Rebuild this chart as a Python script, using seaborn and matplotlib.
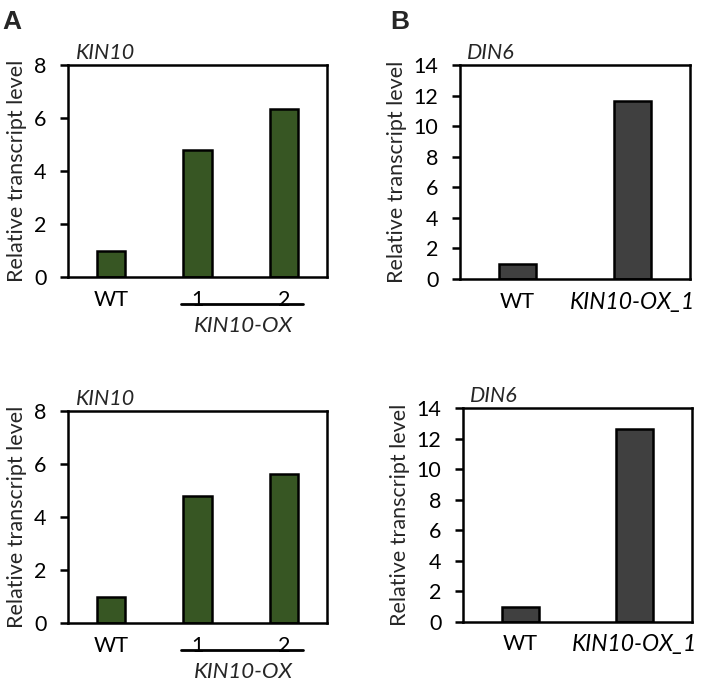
import numpy as np
import matplotlib.pyplot as plt
import seaborn as sns
from matplotlib import transforms

# values
kin10_labels = ["WT", "1", "2"]
kin10_top = [1.0, 4.8, 6.35]
kin10_bottom = [1.0, 4.8, 5.64]

din6_labels = ["WT", "KIN10-OX_1"]
din6_top = [1.0, 11.65]
din6_bottom = [1.0, 12.6]

green = "#375623"
grey = "#404040"

sns.set_theme(style="white")
plt.rcParams["font.family"] = ["Lato", "DejaVu Sans"]

fig = plt.figure(figsize=(7.09, 6.84), dpi=100)

W, H = 709, 684


def px_axes(left, top, right, bottom):
    return fig.add_axes([left / W, (H - bottom) / H, (right - left) / W, (bottom - top) / H])


def style(ax, ymax, step, title):
    ax.set_ylim(0, ymax)
    ax.set_yticks(np.arange(0, ymax + 1, step))
    for s in ax.spines.values():
        s.set_visible(True)
        s.set_linewidth(1.8)
        s.set_color("black")
    ax.tick_params(axis="y", which="both", left=True, length=5.5, width=1.8,
                   labelsize=15.5, pad=10, colors="black")
    ax.tick_params(axis="x", bottom=False, labelsize=15.5, pad=3, colors="black")
    ax.set_xlabel("")
    ax.set_ylabel("Relative transcript level", fontsize=15.5, labelpad=5)
    ax.text(0.03, 1.01, title, transform=ax.transAxes, fontsize=15.5,
            style="italic", ha="left", va="bottom")


def kin10_panel(ax, values):
    sns.barplot(x=kin10_labels, y=values, color=green, edgecolor="black",
                linewidth=1.8, width=0.33, saturation=1, ax=ax)
    ax.set_xlim(-0.5, 2.5)
    style(ax, 8, 2, "KIN10")
    trans = transforms.blended_transform_factory(ax.transData, ax.transAxes)
    ax.plot([0.81, 2.22], [-0.125, -0.125], color="black", lw=2,
            transform=trans, clip_on=False)
    ax.text(1.53, -0.23, "KIN10-OX", transform=trans, ha="center", va="center",
            fontsize=16, style="italic")


def din6_panel(ax, values):
    sns.barplot(x=din6_labels, y=values, color=grey, edgecolor="black",
                linewidth=1.8, width=0.32, saturation=1, ax=ax)
    ax.set_xlim(-0.5, 1.5)
    style(ax, 14, 2, "DIN6")
    ax.get_xticklabels()[1].set_style("italic")
    ax.get_xticklabels()[1].set_fontsize(16.5)


ax1 = px_axes(68, 65, 327, 277)
kin10_panel(ax1, kin10_top)
ax2 = px_axes(460, 65, 690, 279)
din6_panel(ax2, din6_top)
ax3 = px_axes(68, 411, 327, 623)
kin10_panel(ax3, kin10_bottom)
ax4 = px_axes(463, 408, 692, 622)
din6_panel(ax4, din6_bottom)

fig.text(2 / W, 1 - 10 / H, "A", fontsize=19, fontweight="bold", ha="left", va="top",
         family="Liberation Sans")
fig.text(390 / W, 1 - 10 / H, "B", fontsize=19, fontweight="bold", ha="left", va="top",
         family="Liberation Sans")

plt.savefig("out.png", dpi=100)
